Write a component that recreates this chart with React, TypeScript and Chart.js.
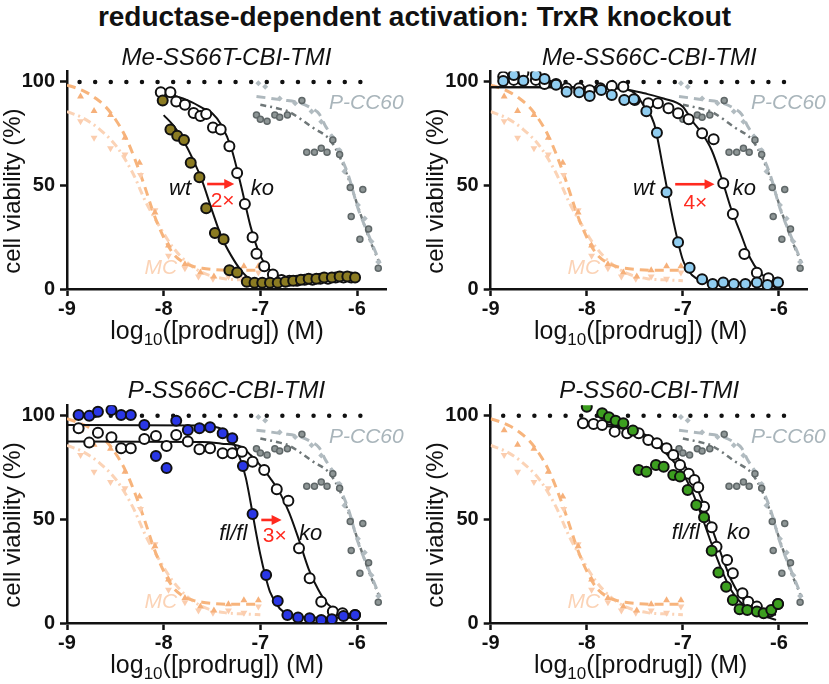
import React, { useEffect, useRef } from 'react';
import { Chart, registerables } from 'chart.js';

Chart.register(...registerables);

const FONT = '"Liberation Sans", Arial, Helvetica, sans-serif';
const INK = '#111111';

// ---------- axes ----------
const X_TICKS = [-9, -8, -7, -6];
const Y_TICKS = [0, 50, 100];

// ---------- 100 % reference (dotted) ----------
const refX = [-8.87, -5.87];
const refY = [100, 100];

// ---------- MC reference compound (shared) ----------
const mcUpX = [-8.86, -8.72, -8.55, -8.4, -8.25, -8.09, -7.95, -7.78, -7.62, -7.48, -7.33, -7.17, -7.02];
const mcUpY = [93, 86, 84, 73, 61, 37, 21, 12, 8, 6, 9, 11, 11];
const mcDownX = [-8.86, -8.72, -8.55, -8.4, -8.24, -8.09, -7.95, -7.78, -7.64, -7.49, -7.33, -7.17, -7.02];
const mcDownY = [81, 73, 68, 65, 55, 38, 16, 10, 6, 5, 6, 5, 8];
const mcFitAX = [-9, -8.9, -8.8, -8.7, -8.6, -8.5, -8.4, -8.3, -8.2, -8.1, -8.0, -7.9, -7.8, -7.7, -7.6, -7.5, -7.3, -7.0];
const mcFitAY = [98.5, 97, 95, 92, 88, 82, 74, 63, 50, 36, 25, 17, 13, 11, 10, 9.5, 9, 9];
const mcFitBX = [-9, -8.83, -8.66, -8.49, -8.32, -8.18, -8.04, -7.91, -7.75, -7.58, -7.37, -7.13, -7.0];
const mcFitBY = [85.7, 82.5, 77, 69, 56, 41.5, 30, 20.5, 12.5, 7.5, 5, 4.3, 4];

// ---------- P-CC60 reference compound (shared) ----------
const pccLightX = [-7.02, -6.95, -6.8, -6.64, -6.47, -6.37, -6.26, -6.18, -6.13, -6.06, -5.99, -5.92, -5.85, -5.78];
const pccLightY = [99.4, 97.7, 92, 89.7, 85.7, 80.8, 73.6, 67, 56.7, 50.2, 40.6, 34, 23, 13];
const pccDarkX = [-7.04, -7.0, -6.93, -6.85, -6.8, -6.72, -6.57, -6.52, -6.44, -6.37, -6.31, -6.25, -6.18, -6.07, -6.06, -5.97, -5.94, -5.88, -5.78];
const pccDarkY = [84, 82, 81, 84, 83, 84, 91, 66, 66, 68, 66, 72, 65, 49, 35, 24, 48, 29, 10];
const pccFitAX = [-7.04, -6.77, -6.6, -6.47, -6.39, -6.33, -6.25, -6.19, -6.09, -5.99, -5.88, -5.76];
const pccFitAY = [93, 91.3, 90, 87.3, 84.5, 79, 73, 66.3, 55, 39, 26, 12.4];
const pccFitBX = [-7.0, -6.8, -6.7, -6.46, -6.28, -6.18, -6.07, -5.97, -5.87, -5.77];
const pccFitBY = [89, 87, 85.5, 78, 72, 64, 51, 37, 24, 13];

// ---------- Panel 1: Me-SS66T-CBI-TMI ----------
const p1WtX = [-8.01, -7.93, -7.86, -7.79, -7.72, -7.63, -7.56, -7.47, -7.38, -7.32, -7.24, -7.14, -7.06, -6.98, -6.9, -6.82, -6.74, -6.66, -6.58, -6.5, -6.42, -6.34, -6.26, -6.18, -6.1, -6.02];
const p1WtY = [91, 77, 74, 72, 61, 54, 39, 27, 24, 9, 8, 3.5, 3, 3, 3, 3, 3.5, 4, 4.5, 5, 5, 5.5, 5.5, 6, 6, 5.5];
const p1KoX = [-8.03, -7.93, -7.87, -7.78, -7.69, -7.62, -7.56, -7.49, -7.41, -7.32, -7.24, -7.16, -7.08, -7.04, -6.96, -6.87, -6.78, -6.7, -6.62, -6.54, -6.46, -6.38, -6.3, -6.22, -6.14, -6.06];
const p1KoY = [95, 95, 90.5, 89, 85, 83.5, 84.5, 78, 77, 69, 56, 41, 25, 17, 11, 7, 4.3, 4, 4, 4.5, 4.5, 5, 5, 5.5, 5.5, 5.5];
const p1WtFitX = [-8.0, -7.9, -7.8, -7.7, -7.6, -7.5, -7.4, -7.3, -7.2, -7.1, -7.0, -6.8, -6.6, -6.4, -6.2, -6.0];
const p1WtFitY = [84, 79, 72, 63, 52, 38, 25, 16, 9, 4.5, 3.5, 3.5, 4, 4.5, 5, 5.5];
const p1KoFitX = [-8.02, -7.9, -7.8, -7.7, -7.6, -7.5, -7.4, -7.3, -7.2, -7.1, -7.0, -6.9, -6.8, -6.6, -6.4, -6.2, -6.0];
const p1KoFitY = [95, 93.5, 92, 90, 87.5, 85, 79, 68, 50, 30, 16, 9, 6, 4.5, 4.5, 5, 5.5];

// ---------- Panel 2: Me-SS66C-CBI-TMI ----------
const p2WtX = [-8.87, -8.76, -8.66, -8.53, -8.44, -8.32, -8.21, -8.08, -7.97, -7.85, -7.74, -7.61, -7.51, -7.38, -7.27, -7.17, -7.05, -6.93, -6.8, -6.69, -6.58, -6.47, -6.35, -6.23, -6.12, -6.01];
const p2WtY = [100.5, 103.4, 100.6, 103.4, 101.4, 98.6, 95.3, 95, 93.2, 96.1, 93.7, 91.3, 91.6, 85.8, 75.5, 46.7, 22.6, 10.3, 4.7, 2.4, 3.1, 2.4, 2.4, 3.1, 1.9, 3.1];
const p2KoX = [-8.87, -8.76, -8.66, -8.53, -8.44, -8.32, -8.21, -8.08, -7.97, -7.86, -7.74, -7.62, -7.5, -7.36, -7.26, -7.15, -7.05, -6.94, -6.8, -6.68, -6.58, -6.48, -6.36, -6.23, -6.11, -6.02];
const p2KoY = [102.5, 101, 104.5, 101, 99, 99, 97, 97, 96, 97, 98, 97.7, 91.3, 89.7, 89.7, 87.3, 84.9, 82, 75.2, 72.3, 51.1, 36.2, 16.9, 7.9, 5.2, 3];
const p2WtFitX = [-9.0, -7.8, -7.6, -7.5, -7.4, -7.3, -7.2, -7.1, -7.0, -6.9, -6.8, -6.6, -6.3, -6.0];
const p2WtFitY = [97.5, 97.5, 96.5, 94.5, 88, 80, 57, 33, 14, 6.5, 4, 3, 3, 3];
const p2KoFitX = [-9.0, -8.0, -7.6, -7.4, -7.2, -7.0, -6.9, -6.8, -6.7, -6.6, -6.5, -6.4, -6.3, -6.2, -6.1, -6.0];
const p2KoFitY = [97.5, 97.5, 96.5, 94.5, 92, 88, 81, 75, 67, 54, 39, 27, 15, 8, 4.5, 3];

// ---------- Panel 3: P-SS66C-CBI-TMI ----------
const p3FlX = [-8.88, -8.77, -8.68, -8.54, -8.44, -8.34, -8.2, -8.08, -7.97, -7.87, -7.75, -7.63, -7.52, -7.39, -7.29, -7.18, -7.08, -6.94, -6.82, -6.72, -6.61, -6.49, -6.37, -6.26, -6.14, -6.02];
const p3FlY = [100.3, 99.9, 101.9, 102.7, 100.3, 100.3, 95.5, 80.6, 74.7, 97.6, 93.1, 93.9, 94.4, 91.5, 89.1, 75.7, 52.6, 23.2, 10.6, 3.9, 2.7, 2.3, 1.4, 1.8, 3.4, 3.9];
const p3KoX = [-8.88, -8.77, -8.68, -8.54, -8.44, -8.34, -8.2, -8.08, -7.97, -7.87, -7.75, -7.63, -7.52, -7.39, -7.29, -7.19, -7.08, -6.96, -6.83, -6.71, -6.6, -6.49, -6.37, -6.25, -6.15, -6.02];
const p3KoY = [93.9, 87, 91.8, 89.6, 84.3, 84.3, 88.7, 90.2, 85.4, 90.7, 87.5, 83.8, 84.3, 81.9, 81.9, 82.6, 77.8, 73.8, 64.5, 59, 36, 21.6, 10.3, 5.5, 4.7, 3.9];
const p3FlFitX = [-9.0, -7.6, -7.5, -7.4, -7.3, -7.25, -7.2, -7.15, -7.1, -7.05, -7.0, -6.95, -6.9, -6.8, -6.7, -6.6, -6.3, -6.0];
const p3FlFitY = [95.5, 95.3, 94.8, 93.5, 89, 84, 78, 70, 58, 45, 33, 23, 15, 7, 4, 3, 2.5, 2.5];
const p3KoFitX = [-9.0, -7.6, -7.4, -7.2, -7.1, -7.0, -6.9, -6.8, -6.7, -6.6, -6.5, -6.4, -6.3, -6.2, -6.1, -6.0];
const p3KoFitY = [87.5, 87.3, 86.5, 85, 81, 76, 70, 63, 53, 40, 26, 16, 9, 6, 4.5, 4];

// ---------- Panel 4: P-SS60-CBI-TMI ----------
const p4FlX = [-8.0, -7.84, -7.77, -7.7, -7.62, -7.52, -7.46, -7.38, -7.28, -7.2, -7.1, -7.03, -6.95, -6.86, -6.78, -6.7, -6.63, -6.55, -6.48, -6.41, -6.33, -6.23, -6.16, -6.08, -6.01];
const p4FlY = [104.3, 101.2, 99.2, 97.5, 96.3, 92.8, 73.8, 73, 76.2, 75.4, 71.4, 70.6, 64.2, 56.9, 51, 34.9, 24.3, 17.5, 11.1, 6.6, 6.3, 5.5, 4.7, 6.3, 9.2];
const p4KoX = [-8.04, -7.93, -7.84, -7.71, -7.58, -7.46, -7.36, -7.27, -7.17, -7.1, -7.03, -6.94, -6.88, -6.84, -6.78, -6.7, -6.65, -6.54, -6.48, -6.38, -6.32, -6.23, -6.09, -6.01];
const p4KoY = [96.3, 96, 95.5, 92.3, 91.5, 91.5, 88.3, 86.7, 84.3, 81, 76.2, 72, 69, 65.5, 56.1, 46.2, 36.8, 30.4, 24, 14.3, 10.3, 7.9, 5.5, 9.2];
const p4FlFitX = [-8.0, -7.8, -7.6, -7.4, -7.2, -7.0, -6.9, -6.8, -6.7, -6.6, -6.5, -6.4, -6.3, -6.2, -6.1, -6.03];
const p4FlFitY = [97, 96, 94, 90, 83, 72, 63, 51, 38, 26, 16, 10, 6, 4, 2.5, 1.5];
const p4KoFitX = [-8.0, -7.8, -7.6, -7.4, -7.2, -7.0, -6.9, -6.8, -6.7, -6.6, -6.5, -6.4, -6.3, -6.2, -6.1, -6.03];
const p4KoFitY = [96, 95, 93.5, 91, 86, 77, 70, 59, 46, 33, 21, 13, 8, 5.5, 4.5, 4];

// ---------- helpers ----------
const zip = (xs: number[], ys: number[]) => xs.map((x, i) => ({ x, y: ys[i] }));

const lineDs = (xs: number[], ys: number[], color: string, width: number, dash: number[], order: number, cap = 'butt') => ({
  data: zip(xs, ys),
  showLine: true,
  borderColor: color,
  backgroundColor: color,
  borderWidth: width,
  borderDash: dash,
  borderCapStyle: cap,
  pointRadius: 0,
  pointHoverRadius: 0,
  fill: false,
  cubicInterpolationMode: 'monotone',
  order,
});

const pointDs = (xs: number[], ys: number[], style: string, radius: number, bg: string, border: string, bw: number, order: number, rotation = 0) => ({
  data: zip(xs, ys),
  showLine: false,
  pointStyle: style,
  pointRadius: radius,
  pointHoverRadius: radius,
  pointRotation: rotation,
  pointBackgroundColor: bg,
  pointBorderColor: border,
  pointBorderWidth: bw,
  backgroundColor: bg,
  borderColor: border,
  order,
});

type Label = { text: string; x: number; y: number; color: string; size: number; italic?: boolean; align?: CanvasTextAlign };

type Panel = {
  title: string;
  left: number; top: number; width: number; height: number;
  area: { left: number; right: number; top: number; bottom: number };
  fill: string;
  wt: [number[], number[]]; ko: [number[], number[]];
  wtFit: [number[], number[]]; koFit: [number[], number[]];
  labels: Label[];
  arrow: { x1: number; x2: number; y: number };
};

const MC_COLOR = '#FBD3B6';
const PCC_COLOR = '#A9B5BB';
const RED = '#FF2A1F';

const sharedLabels = (): Label[] => [
  { text: 'MC', x: -8.03, y: 10, color: MC_COLOR, size: 21, italic: true },
  { text: 'P-CC60', x: -6.29, y: 89.7, color: PCC_COLOR, size: 21, italic: true, align: 'left' },
];

const PANELS: Panel[] = [
  {
    title: 'Me-SS66T-CBI-TMI', left: 0, top: 38, width: 414, height: 322,
    area: { left: 67, right: 386, top: 33.6, bottom: 251 }, fill: '#8B7B22',
    wt: [p1WtX, p1WtY], ko: [p1KoX, p1KoY], wtFit: [p1WtFitX, p1WtFitY], koFit: [p1KoFitX, p1KoFitY],
    labels: [
      ...sharedLabels(),
      { text: 'wt', x: -7.83, y: 48.3, color: INK, size: 22, italic: true },
      { text: 'ko', x: -6.98, y: 48.3, color: INK, size: 22, italic: true },
      { text: '2×', x: -7.39, y: 42.5, color: RED, size: 21 },
    ],
    arrow: { x1: -7.55, x2: -7.27, y: 50.7 },
  },
  {
    title: 'Me-SS66C-CBI-TMI', left: 414, top: 38, width: 415, height: 322,
    area: { left: 76.7, right: 393.8, top: 33.6, bottom: 251 }, fill: '#90CDF0',
    wt: [p2WtX, p2WtY], ko: [p2KoX, p2KoY], wtFit: [p2WtFitX, p2WtFitY], koFit: [p2KoFitX, p2KoFitY],
    labels: [
      ...sharedLabels(),
      { text: 'wt', x: -7.405, y: 48.3, color: INK, size: 22, italic: true },
      { text: 'ko', x: -6.36, y: 48.3, color: INK, size: 22, italic: true },
      { text: '4×', x: -6.87, y: 41.5, color: RED, size: 21 },
    ],
    arrow: { x1: -7.08, x2: -6.67, y: 50.6 },
  },
  {
    title: 'P-SS66C-CBI-TMI', left: 0, top: 365, width: 414, height: 319,
    area: { left: 67, right: 386, top: 40.3, bottom: 258 }, fill: '#2A37E6',
    wt: [p3FlX, p3FlY], ko: [p3KoX, p3KoY], wtFit: [p3FlFitX, p3FlFitY], koFit: [p3KoFitX, p3KoFitY],
    labels: [
      ...sharedLabels(),
      { text: 'fl/fl', x: -7.28, y: 42.9, color: INK, size: 22, italic: true },
      { text: 'ko', x: -6.48, y: 42.9, color: INK, size: 22, italic: true },
      { text: '3×', x: -6.85, y: 41.7, color: RED, size: 21 },
    ],
    arrow: { x1: -6.99, x2: -6.78, y: 49.7 },
  },
  {
    title: 'P-SS60-CBI-TMI', left: 414, top: 365, width: 415, height: 319,
    area: { left: 76.7, right: 393.8, top: 40.3, bottom: 258 }, fill: '#3C9E1F',
    wt: [p4FlX, p4FlY], ko: [p4KoX, p4KoY], wtFit: [p4FlFitX, p4FlFitY], koFit: [p4KoFitX, p4KoFitY],
    labels: [
      ...sharedLabels(),
      { text: 'fl/fl', x: -6.97, y: 43.4, color: INK, size: 22, italic: true },
      { text: 'ko', x: -6.42, y: 43.4, color: INK, size: 22, italic: true },
    ],
    arrow: { x1: 0, x2: 0, y: -100 },
  },
];

function makeTextPlugin(panel: Panel) {
  return {
    id: 'panelText',
    afterDraw(chart: any) {
      const { ctx, chartArea: a, scales } = chart;
      const X = (v: number) => scales.x.getPixelForValue(v);
      const Y = (v: number) => scales.y.getPixelForValue(v);
      ctx.save();
      // panel title
      ctx.fillStyle = INK;
      ctx.font = `italic 24px ${FONT}`;
      ctx.textAlign = 'center';
      ctx.textBaseline = 'alphabetic';
      ctx.fillText(panel.title, (a.left + a.right) / 2, a.top - 7);
      // y title
      ctx.save();
      ctx.translate(a.left - 54, a.top + (a.bottom - a.top) * 0.55);
      ctx.rotate(-Math.PI / 2);
      ctx.font = `24px ${FONT}`;
      ctx.textBaseline = 'middle';
      ctx.textAlign = 'center';
      ctx.fillText('cell viability (%)', 0, 0);
      ctx.restore();
      // x title with subscript
      const big = `25px ${FONT}`;
      const small = `17px ${FONT}`;
      const parts: [string, string, number][] = [['log', big, 0], ['10', small, 6], ['([prodrug]) (M)', big, 0]];
      let total = 0;
      for (const [t, f] of parts) { ctx.font = f; total += ctx.measureText(t).width; }
      let cx = a.left + 150 - total / 2;
      const base = a.bottom + 50;
      ctx.textAlign = 'left';
      ctx.textBaseline = 'alphabetic';
      for (const [t, f, dy] of parts) {
        ctx.font = f;
        ctx.fillText(t, cx, base + dy);
        cx += ctx.measureText(t).width;
      }
      // annotation labels
      for (const l of panel.labels) {
        ctx.font = `${l.italic ? 'italic ' : ''}${l.size}px ${FONT}`;
        ctx.fillStyle = l.color;
        ctx.textAlign = l.align || 'center';
        ctx.textBaseline = 'middle';
        ctx.fillText(l.text, X(l.x), Y(l.y));
      }
      // arrow
      const ar = panel.arrow;
      if (ar.y > 0) {
        const x1 = X(ar.x1), x2 = X(ar.x2), y = Y(ar.y);
        ctx.strokeStyle = RED;
        ctx.fillStyle = RED;
        ctx.lineWidth = 2.6;
        ctx.beginPath();
        ctx.moveTo(x1, y);
        ctx.lineTo(x2 - 8, y);
        ctx.stroke();
        ctx.beginPath();
        ctx.moveTo(x2, y);
        ctx.lineTo(x2 - 10, y - 5);
        ctx.lineTo(x2 - 10, y + 5);
        ctx.closePath();
        ctx.fill();
      }
      ctx.restore();
    },
  };
}

function buildConfig(panel: Panel): any {
  const tickFont = { family: FONT, size: 20, weight: 'bold' as const };
  const gridOpts = { display: true, drawOnChartArea: false, drawTicks: true, tickLength: 7, tickWidth: 2.5, tickColor: INK, color: INK };
  const border = { display: true, width: 2.5, color: INK };
  return {
    type: 'scatter',
    data: {
      datasets: [
        // reference compounds (background)
        lineDs(mcFitAX, mcFitAY, '#F7B47C', 3, [9, 6], 60),
        lineDs(mcFitBX, mcFitBY, MC_COLOR, 3, [8, 4, 2, 4], 61),
        pointDs(mcUpX, mcUpY, 'triangle', 4, '#F6B07A', '#F6B07A', 0, 55),
        pointDs(mcDownX, mcDownY, 'triangle', 4, '#FBCDAE', '#FBCDAE', 0, 56, 180),
        lineDs(pccFitAX, pccFitAY, '#AEB8BD', 3, [9, 6], 62),
        lineDs(pccFitBX, pccFitBY, '#6F7778', 2.5, [6, 4, 2, 4], 63),
        pointDs(pccLightX, pccLightY, 'rectRot', 3, '#B2BCC1', '#B2BCC1', 0, 54),
        pointDs(pccDarkX, pccDarkY, 'circle', 3, '#8E9696', '#5F6768', 1.5, 53),
        // 100 % dotted reference
        lineDs(refX, refY, INK, 4.5, [0, 15.6], 40, 'round'),
        // fits
        lineDs(panel.koFit[0], panel.koFit[1], INK, 2, [], 21),
        lineDs(panel.wtFit[0], panel.wtFit[1], INK, 2, [], 20),
        // data
        pointDs(panel.ko[0], panel.ko[1], 'circle', 5, '#FFFFFF', INK, 2, 11),
        pointDs(panel.wt[0], panel.wt[1], 'circle', 5, panel.fill, INK, 2, 10),
      ],
    },
    options: {
      animation: false,
      responsive: false,
      events: [],
      layout: { padding: { left: 0, top: panel.area.top, right: panel.width - panel.area.right, bottom: 0 } },
      plugins: { legend: { display: false }, tooltip: { enabled: false }, title: { display: false } },
      scales: {
        x: {
          type: 'linear', min: -9, max: -5.7,
          afterBuildTicks: (s: any) => { s.ticks = X_TICKS.map((v) => ({ value: v })); },
          afterFit: (s: any) => { s.height = panel.height - panel.area.bottom; },
          ticks: { font: tickFont, color: INK, padding: 1, maxRotation: 0, autoSkip: false, callback: (v: any) => String(v) },
          grid: gridOpts, border,
        },
        y: {
          type: 'linear', min: 0, max: 105,
          afterBuildTicks: (s: any) => { s.ticks = Y_TICKS.map((v) => ({ value: v })); },
          afterFit: (s: any) => { s.width = panel.area.left; },
          ticks: { font: tickFont, color: INK, padding: 5, autoSkip: false, callback: (v: any) => String(v) },
          grid: gridOpts, border,
        },
      },
    },
    plugins: [makeTextPlugin(panel)],
  };
}

function PanelChart({ panel }: { panel: Panel }) {
  const ref = useRef<HTMLCanvasElement>(null);
  useEffect(() => {
    if (!ref.current) return;
    const chart = new Chart(ref.current, buildConfig(panel));
    return () => chart.destroy();
  }, [panel]);
  return (
    <canvas
      ref={ref}
      width={panel.width}
      height={panel.height}
      style={{ position: 'absolute', left: panel.left, top: panel.top, width: panel.width, height: panel.height }}
    />
  );
}

export default function App() {
  return (
    <div style={{ position: 'absolute', left: 0, top: 0, width: 829, height: 684, background: '#ffffff', overflow: 'hidden' }}>
      <div
        style={{
          position: 'absolute', left: 0, top: 0, width: 829, textAlign: 'center',
          fontFamily: FONT, fontWeight: 'bold', fontSize: 28, lineHeight: '34px', color: INK,
        }}
      >
        reductase-dependent activation: TrxR knockout
      </div>
      {PANELS.map((p) => (
        <PanelChart key={p.title} panel={p} />
      ))}
    </div>
  );
}
